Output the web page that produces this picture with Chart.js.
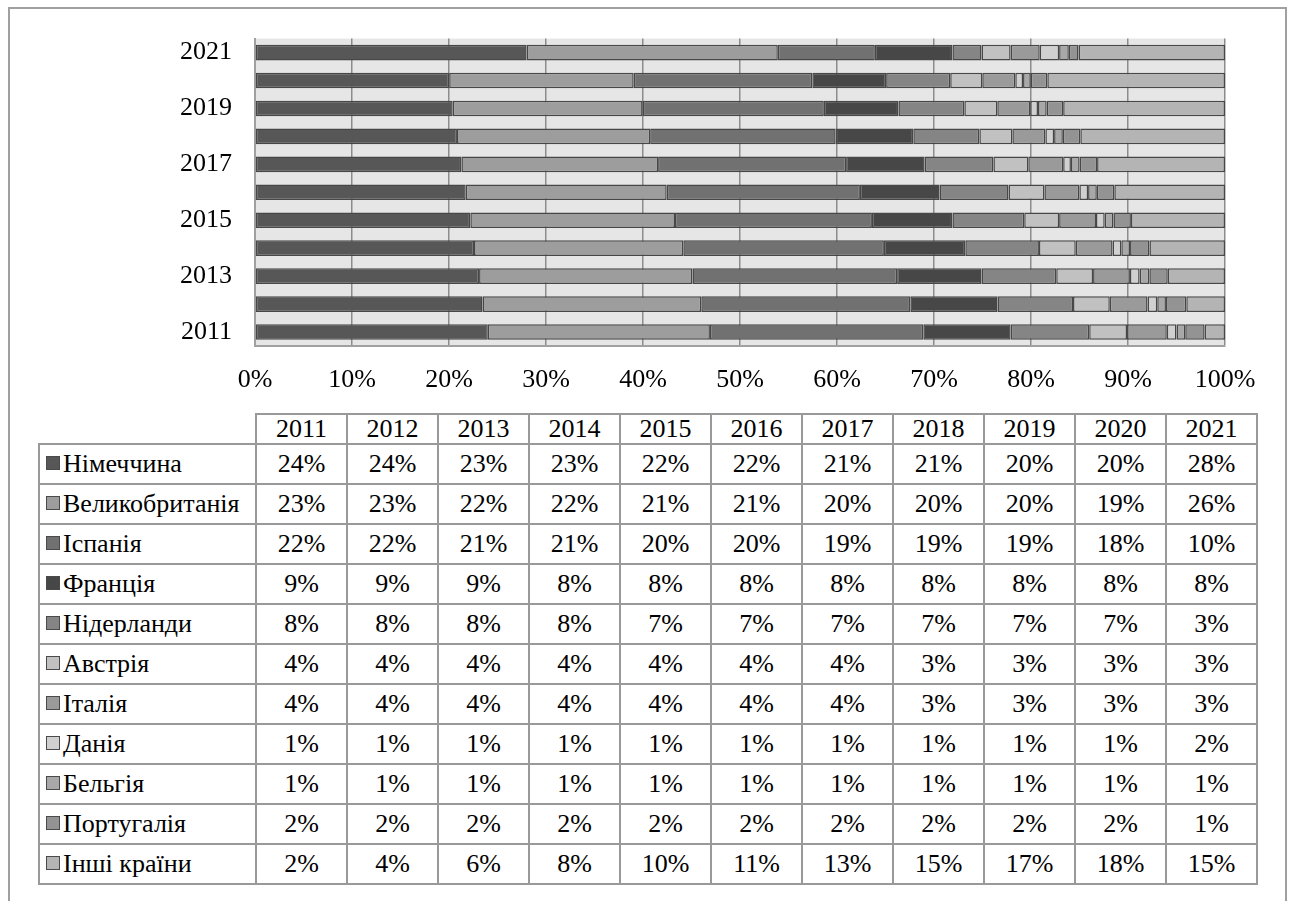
<!DOCTYPE html>
<html>
<head>
<meta charset="utf-8">
<script src="https://cdn.jsdelivr.net/npm/chart.js@4.4.0/dist/chart.umd.min.js"></script>
<style>
  body { margin: 0; background: #fff; font-family: "Liberation Serif", "Times New Roman", serif; }
  #frame { position: absolute; left: 8px; top: 7px; width: 1275px; height: 1000px;
           border: 2px solid #a0a0a0; border-bottom: none; }
  #chartBox { position: absolute; left: 0; top: 0; width: 1289px; height: 400px; }
  #dataTable { position: absolute; left: 38px; top: 413px; border-collapse: collapse;
               font-family: "Liberation Serif", "Times New Roman", serif;
               font-size: 26px; color: #000; table-layout: fixed; }
  #dataTable td { border: 2px solid #999; text-align: center; padding: 0; height: 38px; line-height: 1; }
  #dataTable tr.head td { height: 28px; }
  #dataTable td.name { text-align: left; padding-left: 6px; white-space: nowrap; }
  #dataTable td.blank { border: none; border-bottom: 2px solid #999; }
  .mark { display: inline-block; width: 12px; height: 12px; border: 1.5px solid #4a4a4a;
          margin-right: 3px; vertical-align: 2px; }
</style>
</head>
<body>
<div id="frame"></div>
<div id="chartBox"><canvas id="shareChart" width="1289" height="400"></canvas></div>
<table id="dataTable"></table>
<script>
const years = ["2011", "2012", "2013", "2014", "2015", "2016", "2017", "2018", "2019", "2020", "2021"];
const countries = ["Німеччина", "Великобританія", "Іспанія", "Франція", "Нідерланди", "Австрія",
                   "Італія", "Данія", "Бельгія", "Португалія", "Інші країни"];
const colors = ["#575757", "#9d9d9d", "#717171", "#474747", "#858585", "#c1c1c1",
                "#9a9a9a", "#d0d0d0", "#a8a8a8", "#939393", "#b4b4b4"];

// shares, %
const germany     = [24.0, 23.5, 23.1, 22.6, 22.2, 21.7, 21.3, 20.8, 20.4, 20.0, 28.0];
const britain     = [22.9, 22.6, 22.0, 21.6, 21.1, 20.7, 20.3, 19.9, 19.6, 19.0, 25.9];
const spain       = [22.0, 21.6, 21.1, 20.7, 20.3, 19.9, 19.4, 19.1, 18.7, 18.4, 10.0];
const france      = [9.0, 9.0, 8.7, 8.4, 8.3, 8.2, 8.1, 8.0, 7.7, 7.6, 8.0];
const netherlands = [8.1, 7.8, 7.7, 7.6, 7.4, 7.1, 7.1, 6.8, 6.8, 6.6, 3.0];
const austria     = [3.9, 3.8, 3.8, 3.8, 3.6, 3.7, 3.6, 3.4, 3.4, 3.3, 3.0];
const italy       = [4.1, 3.9, 3.8, 3.8, 3.8, 3.6, 3.6, 3.4, 3.4, 3.4, 3.0];
const denmark     = [1.0, 1.0, 1.0, 0.9, 0.9, 0.9, 0.8, 0.9, 0.8, 0.8, 2.0];
const belgium     = [0.9, 0.9, 1.0, 0.9, 0.9, 0.9, 0.9, 0.9, 0.9, 0.8, 1.0];
const portugal    = [2.0, 2.1, 1.9, 2.0, 1.8, 1.8, 1.8, 1.8, 1.7, 1.7, 1.0];
const others      = [2.1, 4.0, 5.9, 7.8, 9.7, 11.4, 13.2, 14.9, 16.7, 18.3, 15.1];

const xTicks = [0, 10, 20, 30, 40, 50, 60, 70, 80, 90, 100];

const series = [germany, britain, spain, france, netherlands, austria, italy, denmark, belgium, portugal, others];

// 100% stacked: scale every year to its own total
const totals = years.map((y, i) => series.reduce((s, arr) => s + arr[i], 0));

const plotBg = {
  id: "plotBg",
  beforeDraw(chart) {
    const a = chart.chartArea;
    chart.ctx.save();
    chart.ctx.fillStyle = "#e6e6e6";
    chart.ctx.fillRect(a.left, a.top, a.right - a.left, a.bottom - a.top);
    chart.ctx.restore();
  }
};

Chart.defaults.font.family = '"Liberation Serif", "Times New Roman", serif';
Chart.defaults.font.size = 26;
Chart.defaults.color = "#000";

const ctx = document.getElementById("shareChart");
let shareChart = new Chart(ctx, {
  type: "bar",
  data: {
    labels: years,
    datasets: series.map((arr, k) => ({
      label: countries[k],
      data: arr.map((v, i) => v / totals[i] * 100),
      backgroundColor: colors[k],
      borderColor: "#474747",
      borderWidth: 1.5,
      borderSkipped: false,
      barPercentage: 0.56,
      categoryPercentage: 1.0
    }))
  },
  options: {
    indexAxis: "y",
    responsive: false,
    animation: false,
    layout: { padding: { left: 0, top: 38, right: 64, bottom: 0 } },
    plugins: { legend: { display: false }, tooltip: { enabled: false } },
    scales: {
      x: {
        stacked: true,
        min: 0,
        max: 100,
        afterBuildTicks(scale) { scale.ticks = xTicks.map(v => ({ value: v })); },
        afterFit(scale) { scale.height = 54; },
        ticks: { padding: 19, callback: v => v + "%" },
        grid: { color: "#8c8c8c", lineWidth: 1.5, drawTicks: false },
        border: { display: true, color: "#a0a0a0", width: 2 }
      },
      y: {
        stacked: true,
        reverse: true,
        afterFit(scale) { scale.width = 255; },
        ticks: { autoSkip: false, padding: 23, callback: (v, i) => (i % 2 === 0 ? years[i] : "") },
        grid: { display: false, drawTicks: false },
        border: { display: true, color: "#a0a0a0", width: 2 }
      }
    }
  },
  plugins: [plotBg]
});

// data table under the chart
const table = document.getElementById("dataTable");
let head = '<colgroup><col style="width:217px">' + years.map(() => '<col style="width:91px">').join("") + "</colgroup>";
head += '<tr class="head"><td class="blank"></td>' + years.map(y => "<td>" + y + "</td>").join("") + "</tr>";
let body = series.map((arr, k) =>
  '<tr><td class="name"><span class="mark" style="background:' + colors[k] + '"></span>' + countries[k] + "</td>" +
  arr.map(v => "<td>" + Math.round(v) + "%</td>").join("") + "</tr>").join("");
table.innerHTML = head + body;
</script>
</body>
</html>
